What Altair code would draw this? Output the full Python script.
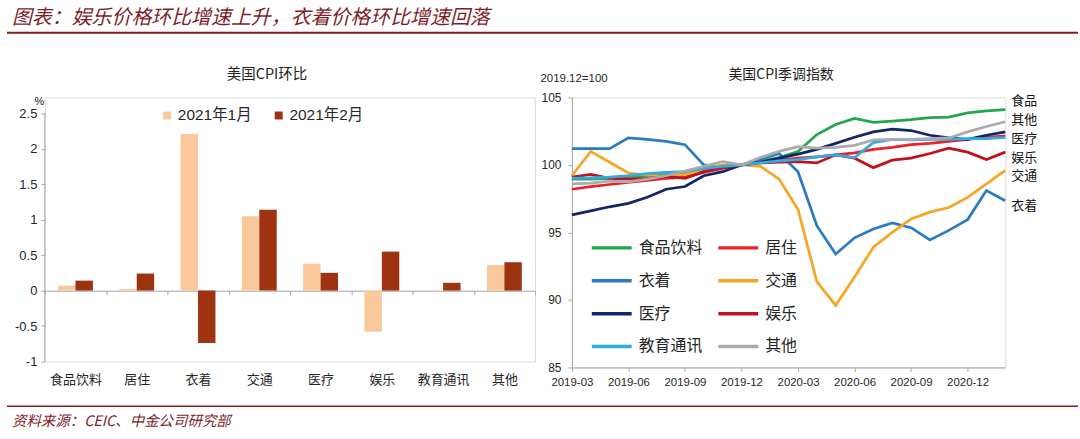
import altair as alt
import pandas as pd

CJK = "Noto Sans CJK SC"
LAT = "Liberation Sans"
MIX = "Liberation Sans, Noto Sans CJK SC"
DARKRED = "#7E1E2A"

# ---------------- left panel data ----------------
categories = ["食品饮料", "居住", "衣着", "交通", "医疗", "娱乐", "教育通讯", "其他"]
bar_series = ["2021年1月", "2021年2月"]
jan_2021 = [0.07, 0.02, 2.21, 1.05, 0.38, -0.58, -0.01, 0.36]
feb_2021 = [0.14, 0.24, -0.74, 1.14, 0.25, 0.55, 0.11, 0.40]
bar_colors = ["#F9C89B", "#9E3311"]
left_ticks = [-1, -0.5, 0, 0.5, 1, 1.5, 2, 2.5]

# ---------------- right panel data ----------------
months = ["2019-03", "2019-04", "2019-05", "2019-06", "2019-07", "2019-08",
          "2019-09", "2019-10", "2019-11", "2019-12", "2020-01", "2020-02",
          "2020-03", "2020-04", "2020-05", "2020-06", "2020-07", "2020-08",
          "2020-09", "2020-10", "2020-11", "2020-12", "2021-01", "2021-02"]
month_ticks = ["2019-03", "2019-06", "2019-09", "2019-12",
               "2020-03", "2020-06", "2020-09", "2020-12"]
right_ticks = [85, 90, 95, 100, 105]
series_names = ["食品饮料", "居住", "衣着", "交通", "医疗", "娱乐", "教育通讯", "其他"]
food = [98.95, 98.95, 99.0, 99.1, 99.2, 99.3, 99.4, 99.65, 99.85, 100.0, 100.25, 100.55,
        101.0, 102.25, 103.0, 103.45, 103.15, 103.25, 103.35, 103.5, 103.55, 103.85, 104.0, 104.1]
housing = [98.2, 98.4, 98.55, 98.7, 98.85, 99.0, 99.1, 99.45, 99.75, 100.0, 100.2, 100.35,
           100.5, 100.6, 100.75, 100.9, 101.15, 101.3, 101.5, 101.6, 101.75, 101.9, 102.05, 102.15]
apparel = [101.2, 101.2, 101.2, 102.0, 101.9, 101.75, 101.5, 100.0, 99.85, 100.0, 100.4, 100.85,
           99.5, 95.5, 93.4, 94.6, 95.25, 95.7, 95.35, 94.45, 95.15, 95.95, 98.1, 97.35]
transport = [99.2, 101.0, 100.2, 99.4, 99.25, 99.15, 99.3, 99.7, 100.0, 100.0, 99.9, 98.95,
             96.7, 91.35, 89.6, 91.7, 93.9, 95.0, 96.0, 96.5, 96.85, 97.6, 98.6, 99.6]
medical = [96.3, 96.6, 96.9, 97.15, 97.6, 98.2, 98.4, 99.2, 99.5, 100.0, 100.2, 100.5,
           100.8, 101.15, 101.6, 102.05, 102.45, 102.65, 102.55, 102.2, 102.0, 101.9, 102.2, 102.45]
recreation = [99.1, 99.3, 99.0, 98.95, 99.0, 99.15, 99.0, 99.5, 99.8, 100.0, 100.15, 100.2,
              100.25, 100.15, 100.75, 100.5, 99.8, 100.35, 100.5, 100.85, 101.25, 100.95, 100.4, 100.95]
education = [99.0, 99.05, 99.1, 99.2, 99.35, 99.45, 99.5, 99.75, 99.9, 100.0, 100.15, 100.3,
             100.4, 100.6, 100.75, 100.55, 101.65, 101.9, 101.85, 101.9, 101.9, 101.95, 101.95, 102.05]
other = [98.6, 98.65, 98.8, 98.75, 98.95, 99.2, 99.55, 99.9, 100.25, 100.0, 100.55, 101.0,
         101.35, 101.25, 101.3, 101.45, 101.85, 101.9, 101.9, 101.95, 102.0, 102.45, 102.85, 103.2]
line_colors = ["#21A64B", "#E8232A", "#2A7BC0", "#F6A623",
               "#122565", "#C0111C", "#2EACE4", "#ABABAB"]
end_labels = ["食品", "其他", "医疗", "娱乐", "交通", "衣着"]
end_label_pos = [104.74, 103.34, 101.94, 100.54, 99.17, 96.96]

# ---------------- tables ----------------
bar_df = pd.DataFrame({
    "category": categories * 2,
    "period": [bar_series[0]] * len(categories) + [bar_series[1]] * len(categories),
    "value": jan_2021 + feb_2021,
})
all_series = [food, housing, apparel, transport, medical, recreation, education, other]
rows = []
for name, vals in zip(series_names, all_series):
    for t, (m, v) in enumerate(zip(months, vals)):
        rows.append({"t": t, "month": m, "series": name, "index": v})
line_df = pd.DataFrame(rows)
label_df = pd.DataFrame({"t": [len(months) - 1] * len(end_labels),
                         "label": end_labels, "pos": end_label_pos})
tick_positions = [months.index(m) for m in month_ticks]
month_array_expr = "[" + ",".join("'%s'" % m for m in months) + "]"

# ---------------- shared axis / scale objects ----------------
left_y_scale = alt.Scale(domain=[-1, 2.725], nice=False)
left_y_axis = alt.Axis(values=left_ticks, labelExpr="'' + datum.value", domain=False,
                       grid=False, tickSize=4, tickColor="#A6A6A6", labelPadding=4,
                       labelFont=LAT, labelFontSize=13, labelColor="#262626",
                       labelOverlap=False,
                       title="%", titleAngle=0, titleX=-6, titleY=4,
                       titleFont=LAT, titleFontSize=11, titleFontWeight="normal",
                       titleColor="#262626", titleBaseline="middle", titleAlign="center")
right_x_scale = alt.Scale(domain=[0, len(months) - 1], nice=False, zero=False)
right_x_axis = alt.Axis(values=tick_positions,
                        labelExpr=month_array_expr + "[round(datum.value)]",
                        title=None, labelAngle=0, grid=False,
                        domainColor="#A6A6A6", tickColor="#A6A6A6", tickSize=4,
                        labelPadding=5, labelFont=LAT, labelFontSize=11.5,
                        labelColor="#262626", labelOverlap=False, labelFlush=False)
right_y_scale = alt.Scale(domain=[85, 105], nice=False, zero=False)
right_y_axis = alt.Axis(values=right_ticks, grid=False,
                        domainColor="#A6A6A6", tickColor="#A6A6A6", tickSize=4,
                        labelPadding=7, labelFont=LAT, labelFontSize=12,
                        labelColor="#262626", labelOverlap=False,
                        title="2019.12=100", titleAngle=0, titleAlign="left",
                        titleBaseline="middle", titleX=-32, titleY=-19,
                        titleFont=LAT, titleFontSize=11.5, titleFontWeight="normal",
                        titleColor="#262626")

# ---------------- left panel ----------------
bars = alt.Chart(bar_df).mark_bar().encode(
    x=alt.X("category:N", sort=categories,
            scale=alt.Scale(paddingInner=0, paddingOuter=0),
            axis=alt.Axis(title=None, labelAngle=0, tickBand="extent", offset=-71,
                          domainColor="#A6A6A6", tickColor="#A6A6A6", tickSize=4,
                          labelPadding=79, labelFont=CJK, labelFontSize=13,
                          labelColor="#262626", labelOverlap=False)),
    xOffset=alt.XOffset("period:N", sort=bar_series,
                        scale=alt.Scale(paddingInner=0, paddingOuter=0.757)),
    y=alt.Y("value:Q", scale=left_y_scale, axis=left_y_axis),
    color=alt.Color("period:N", sort=bar_series,
                    scale=alt.Scale(domain=bar_series, range=bar_colors),
                    legend=alt.Legend(orient="none", legendX=115, legendY=10,
                                      direction="horizontal", symbolType="square",
                                      symbolSize=64, symbolStrokeWidth=0,
                                      labelFont=MIX, labelFontSize=15.5,
                                      labelColor="#262626", columnPadding=19,
                                      labelOffset=3, title=None, padding=0)),
)

y_axis_line = alt.Chart(alt.Data(values=[{"lo": -1, "hi": 2.5}])).mark_rule(
    color="#A6A6A6", strokeWidth=1).encode(
    x=alt.value(0), y=alt.Y("lo:Q", scale=left_y_scale, axis=left_y_axis), y2="hi:Q")

def text_layer(txt, x, y, size, color="#222222", style="normal", align="center", font=CJK):
    return alt.Chart(alt.Data(values=[{"t": txt}])).mark_text(
        font=font, fontSize=size, fontStyle=style, color=color,
        align=align, baseline="middle").encode(
        text="t:N", x=alt.value(x), y=alt.value(y))

def hrule(y, width):
    return alt.Chart(alt.Data(values=[{"k": 1}])).mark_rule(
        color="#8B1C1C", strokeWidth=width).encode(
        x=alt.value(-38), x2=alt.value(1037), y=alt.value(y))

top_bound = alt.Chart(alt.Data(values=[{"k": 1}])).mark_rule(
    color="white", strokeWidth=1).encode(
    x=alt.value(-38), y=alt.value(-95.5), y2=alt.value(-90))

main_title = text_layer("图表：娱乐价格环比增速上升，衣着价格环比增速回落",
                        -33, -79.5, 20, DARKRED, "italic", "left")
source = text_layer("资料来源：CEIC、中金公司研究部", -33, 325.5, 14.5,
                    DARKRED, "italic", "left")
left_title = text_layer("美国CPI环比", 223, -23, 14.5)

left = alt.layer(
    top_bound, hrule(-65, 2), hrule(310, 1.5), main_title, source, left_title,
    bars, y_axis_line,
).properties(width=492, height=265)

# ---------------- right panel ----------------
lines = alt.Chart(line_df).mark_line(strokeWidth=2.75).encode(
    x=alt.X("t:Q", scale=right_x_scale, axis=right_x_axis),
    y=alt.Y("index:Q", scale=right_y_scale, axis=right_y_axis),
    color=alt.Color("series:N", sort=series_names,
                    scale=alt.Scale(domain=series_names, range=line_colors),
                    legend=alt.Legend(orient="none", legendX=18, legendY=129, columns=2,
                                      direction="horizontal",
                                      symbolType="stroke", symbolSize=1600,
                                      symbolStrokeWidth=3.5, labelFont=CJK,
                                      labelFontSize=16, labelColor="#262626",
                                      rowPadding=3, columnPadding=8, labelOffset=5,
                                      title=None, padding=0)),
    tooltip=["month:N", "series:N", "index:Q"],
)

end_text = alt.Chart(label_df).mark_text(
    align="left", baseline="middle", dx=6, font=CJK, fontSize=13, color="#111111").encode(
    x=alt.X("t:Q", scale=right_x_scale, axis=right_x_axis),
    y=alt.Y("pos:Q", scale=right_y_scale, axis=right_y_axis), text="label:N")

right_title = text_layer("美国CPI季调指数", 210, -23, 14)

right = alt.layer(lines, end_text, right_title).properties(width=435, height=271)

chart = alt.hconcat(left, right, spacing=37, bounds="flush").resolve_scale(
    color="independent").resolve_legend(color="independent").properties(
    padding={"left": 5, "top": 0, "right": 0, "bottom": 0},
    background="white",
).configure_view(stroke=None).configure(font=CJK)

chart.save("out.html", embed_options={"renderer": "svg", "actions": False})
